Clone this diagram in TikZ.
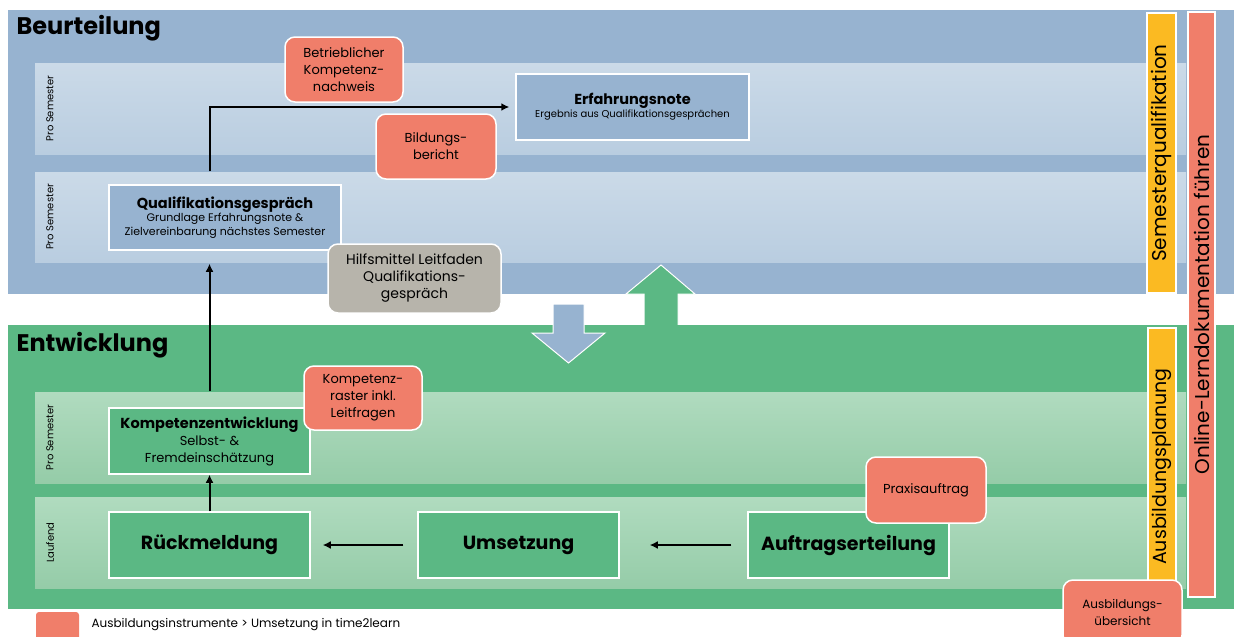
\documentclass[tikz,border=0pt]{standalone}
\usepackage{fontspec}
\setmainfont{Poppins}
\usetikzlibrary{arrows.meta}
\definecolor{bgblue}{HTML}{97B3D0}
\definecolor{bandbluetop}{HTML}{CBDAE8}
\definecolor{bandbluebot}{HTML}{B9CDE0}
\definecolor{bggreen}{HTML}{5BB884}
\definecolor{bandgreentop}{HTML}{B0DBBF}
\definecolor{bandgreenbot}{HTML}{95CCA8}
\definecolor{instred}{HTML}{F07E6A}
\definecolor{planyellow}{HTML}{FBBA22}
\definecolor{helpgrey}{HTML}{B7B4AB}
\newcommand{\fsize}[2]{\fontsize{#1}{#2}\selectfont}
\begin{document}
\begin{tikzpicture}[x=1pt,y=-1pt,
    blueblock/.style={draw=white, line width=1.5pt, fill=bgblue, align=center, inner sep=0pt},
    greenblock/.style={draw=white, line width=1.5pt, fill=bggreen, align=center, inner sep=0pt},
    tool/.style={draw=white, line width=1.5pt, fill=instred, rounded corners=10pt, align=center, inner sep=0pt, font=\fsize{13}{17}},
    lanelabel/.style={rotate=90, font=\fsize{10}{12}},
    sidebar/.style={draw=white, line width=1.5pt, rotate=90, inner sep=0pt},
    flow/.style={-{Latex[length=8pt,width=8pt]}, line width=2pt}]
    \useasboundingbox (0,0) rectangle (1234,637);
    \clip (0,0) rectangle (1234,637);
    % Beurteilung
    \fill[bgblue] (8,10) rectangle (1234,294);
    \shade[top color=bandbluetop, bottom color=bandbluebot] (35,63) rectangle (1186,154);
    \shade[top color=bandbluetop, bottom color=bandbluebot] (35,172) rectangle (1186,262);
    \node[anchor=west, font=\fsize{24}{30}\bfseries] (beurt) at (13,28) {Beurteilung};
    % Pfeil nach oben
    \filldraw[fill=bggreen, draw=white, line width=1pt] (644,327) -- (644,294) -- (626,294) -- (661,265)
        -- (695,294) -- (678,294) -- (678,327) -- cycle;
    % Entwicklung
    \fill[bggreen] (8,325) rectangle (1234,609);
    \shade[top color=bandgreentop, bottom color=bandgreenbot] (35,392) rectangle (1186,483);
    \shade[top color=bandgreentop, bottom color=bandgreenbot] (35,497) rectangle (1186,588);
    \node[anchor=west, font=\fsize{24}{30}\bfseries] (entw) at (13,345) {Entwicklung};
    % Pfeil nach unten
    \filldraw[fill=bgblue, draw=white, line width=1pt] (553,304) -- (584,304) -- (584,333) -- (605,333)
        -- (568.5,363) -- (532,333) -- (553,333) -- cycle;
    % Zeilen
    \foreach \y/\txt in {108.5/Pro Semester, 217/Pro Semester, 437.5/Pro Semester, 542.5/Laufend}{
        \node[lanelabel] at (50,\y) {\txt};
    }
    % Prozess
    \node[blueblock, minimum width=232, minimum height=65, font=\fsize{11}{13.5}] (qual) at (225,217.5)
        {{\fsize{14.5}{17}\bfseries Qualifikationsgespräch}\\Grundlage Erfahrungsnote \&\\Zielvereinbarung nächstes Semester};
    \node[blueblock, minimum width=233, minimum height=66, font=\fsize{10}{13}] (erf) at (632.5,107)
        {{\fsize{14.5}{17}\bfseries Erfahrungsnote}\\Ergebnis aus Qualifikationsgesprächen};
    \node[greenblock, minimum width=201, minimum height=66, font=\fsize{13}{17}] (kompe) at (209.5,441)
        {{\fsize{14.5}{17}\bfseries Kompetenzentwicklung}\\Selbst- \&\\Fremdeinschätzung};
    \node[greenblock, minimum width=201, minimum height=66, font=\fsize{19}{22}\bfseries] (rueck) at (209.5,545) {Rückmeldung};
    \node[greenblock, minimum width=201, minimum height=66, font=\fsize{19}{22}\bfseries] (ums) at (518.5,545) {Umsetzung};
    \node[greenblock, minimum width=201, minimum height=66, font=\fsize{19}{22}\bfseries] (auftr) at (848.5,545) {Auftragserteilung};
    % Verbindungen
    \draw[flow, shorten >=30pt, shorten <=16pt] (auftr) -- (ums);
    \draw[flow, shorten >=12pt, shorten <=14pt] (ums) -- (rueck);
    \draw[flow] (rueck) -- (kompe);
    \draw[flow, shorten <=16pt, shorten >=13pt] (kompe.north) -- (kompe.north |- qual.south);
    \draw[flow, shorten <=13pt, shorten >=6pt] (kompe.north |- qual.north) |- (erf.west);
    % Instrumente
    \node[tool, minimum width=118, minimum height=65] (betr) at (344,69.5) {Betrieblicher\\Kompetenz-\\nachweis};
    \node[tool, minimum width=120, minimum height=65] (bild) at (436,146.5) {Bildungs-\\bericht};
    \node[tool, fill=helpgrey, minimum width=173, minimum height=69, font=\fsize{14}{17}] (hilf) at (414.5,278.5)
        {Hilfsmittel Leitfaden\\Qualifikations-\\gespräch};
    \node[tool, minimum width=118, minimum height=64] (raster) at (363,398) {Kompetenz-\\raster inkl.\\Leitfragen};
    \node[tool, minimum width=120, minimum height=66] (praxis) at (926,490) {Praxisauftrag};
    % Seitenbalken
    \node[sidebar, fill=planyellow, minimum width=280, minimum height=29, font=\fsize{20}{22}] (semq) at (1161.5,153) {Semesterqualifikation};
    \node[sidebar, fill=planyellow, minimum width=277, minimum height=28, font=\fsize{19}{22}] (planung) at (1162,466.5) {Ausbildungsplanung};
    \node[sidebar, fill=instred, minimum width=585, minimum height=27, font=\fsize{20}{22}] (online) at (1201.5,304.5) {Online-Lerndokumentation führen};
    \node[tool, minimum width=119, minimum height=65, font=\fsize{12}{17}] (uebers) at (1122.5,612.5) {Ausbildungs-\\übersicht};
    % Legende
    \fill[instred, rounded corners=3pt] (36,612) rectangle (79,645);
    \node[anchor=west, font=\fsize{12}{14}] (legende) at (88,625) {Ausbildungsinstrumente > Umsetzung in time2learn};
\end{tikzpicture}
\end{document}
